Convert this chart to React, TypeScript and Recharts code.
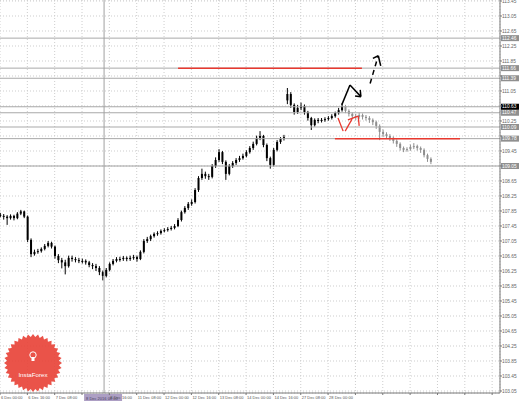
import React from "react";
import {
  ComposedChart,
  Bar,
  XAxis,
  YAxis,
  CartesianGrid,
  ReferenceLine,
} from "recharts";

// 2-hour bars
const opens = [
  107.75, 107.72, 107.7, 107.66, 107.72, 107.66, 107.78, 107.84, 107.7, 107.08,
  106.7, 106.76, 106.78, 106.84, 106.92, 107.0, 106.9, 106.65, 106.54, 106.48,
  106.38, 106.6, 106.57, 106.54, 106.52, 106.52, 106.48, 106.41, 106.38, 106.33,
  106.22, 106.12, 106.28, 106.44, 106.52, 106.57, 106.57, 106.6, 106.57, 106.6,
  106.62, 106.57, 106.76, 107.05, 107.1, 107.18, 107.24, 107.26, 107.32, 107.34,
  107.37, 107.4, 107.45, 107.61, 107.82, 107.93, 108.04, 108.09, 108.41, 108.73,
  108.84, 108.78, 108.76, 109.05, 109.21, 109.42, 109.16, 108.84, 109.05, 109.13,
  109.21, 109.26, 109.32, 109.42, 109.53, 109.64, 109.8, 109.85, 109.61, 109.26,
  109.08, 109.48, 109.69, 109.77, 110.8, 110.97, 110.68, 110.49, 110.6, 110.65,
  110.49, 110.33, 110.14, 110.28, 110.25, 110.28, 110.3, 110.33, 110.38, 110.46,
  110.54, 110.65, 110.52, 110.44, 110.38, 110.36, 110.41, 110.36, 110.33, 110.28,
  110.22, 110.12, 109.96, 109.9, 109.85, 109.8, 109.72, 109.64, 109.53, 109.48,
  109.5, 109.56, 109.58, 109.53, 109.48, 109.34, 109.24,
];
const highs = [
  107.8, 107.77, 107.74, 107.76, 107.75, 107.82, 107.88, 107.86, 107.73, 107.12,
  106.82, 106.84, 106.88, 106.97, 107.05, 107.03, 106.93, 106.7, 106.6, 106.55,
  106.66, 106.66, 106.62, 106.6, 106.58, 106.56, 106.52, 106.46, 106.44, 106.38,
  106.26, 106.33, 106.48, 106.57, 106.62, 106.63, 106.65, 106.64, 106.66, 106.68,
  106.66, 106.8, 107.1, 107.16, 107.22, 107.28, 107.31, 107.36, 107.39, 107.42,
  107.45, 107.5, 107.66, 107.86, 107.98, 108.09, 108.16, 108.46, 108.78, 108.98,
  108.9, 108.84, 109.1, 109.28, 109.5, 109.45, 109.2, 109.1, 109.18, 109.26,
  109.32, 109.38, 109.47, 109.58, 109.7, 109.86, 109.98, 109.88, 109.65, 109.3,
  109.53, 109.74, 109.82, 109.88, 111.13, 111.02, 110.72, 110.68, 110.74, 110.69,
  110.52, 110.36, 110.32, 110.33, 110.33, 110.35, 110.38, 110.43, 110.5, 110.6,
  110.72, 110.68, 110.56, 110.48, 110.44, 110.47, 110.45, 110.41, 110.38, 110.32,
  110.26, 110.16, 110.02, 109.95, 109.9, 109.84, 109.76, 109.68, 109.57, 109.55,
  109.62, 109.66, 109.62, 109.57, 109.52, 109.38, 109.28,
];
const lows = [
  107.68, 107.62, 107.48, 107.62, 107.6, 107.63, 107.74, 107.66, 107.02, 106.62,
  106.66, 106.71, 106.74, 106.8, 106.88, 106.85, 106.58, 106.46, 106.32, 106.16,
  106.34, 106.5, 106.48, 106.46, 106.45, 106.42, 106.35, 106.3, 106.25, 106.14,
  106.0, 106.08, 106.24, 106.4, 106.48, 106.5, 106.52, 106.51, 106.52, 106.55,
  106.5, 106.54, 106.72, 107.0, 107.05, 107.14, 107.19, 107.22, 107.28, 107.3,
  107.33, 107.36, 107.42, 107.57, 107.78, 107.88, 107.99, 108.05, 108.36, 108.68,
  108.71, 108.68, 108.72, 109.0, 109.16, 109.1, 108.68, 108.8, 109.0, 109.08,
  109.16, 109.22, 109.28, 109.38, 109.48, 109.6, 109.74, 109.55, 109.18, 108.98,
  109.04, 109.44, 109.64, 109.73, 110.7, 110.6, 110.42, 110.44, 110.54, 110.42,
  110.26, 110.01, 110.1, 110.19, 110.21, 110.23, 110.26, 110.29, 110.34, 110.42,
  110.5, 110.46, 110.37, 110.3, 110.28, 110.31, 110.29, 110.26, 110.2, 110.14,
  110.04, 109.74, 109.82, 109.78, 109.72, 109.65, 109.56, 109.46, 109.42, 109.43,
  109.46, 109.5, 109.46, 109.4, 109.28, 109.16, 109.1,
];
const closes = [
  107.72, 107.7, 107.66, 107.72, 107.66, 107.78, 107.84, 107.7, 107.08, 106.7,
  106.76, 106.78, 106.84, 106.92, 107.0, 106.9, 106.65, 106.54, 106.48, 106.38,
  106.6, 106.57, 106.54, 106.52, 106.52, 106.48, 106.41, 106.38, 106.33, 106.22,
  106.12, 106.28, 106.44, 106.52, 106.57, 106.57, 106.6, 106.57, 106.6, 106.62,
  106.57, 106.76, 107.05, 107.1, 107.18, 107.24, 107.26, 107.32, 107.34, 107.37,
  107.4, 107.45, 107.61, 107.82, 107.93, 108.04, 108.09, 108.41, 108.73, 108.84,
  108.78, 108.76, 109.05, 109.21, 109.42, 109.16, 108.84, 109.05, 109.13, 109.21,
  109.26, 109.32, 109.42, 109.53, 109.64, 109.8, 109.85, 109.61, 109.26, 109.08,
  109.48, 109.69, 109.77, 109.82, 110.97, 110.68, 110.49, 110.6, 110.65, 110.49,
  110.33, 110.14, 110.28, 110.25, 110.28, 110.3, 110.33, 110.38, 110.46, 110.54,
  110.65, 110.52, 110.44, 110.38, 110.36, 110.41, 110.36, 110.33, 110.28, 110.22,
  110.12, 109.96, 109.9, 109.85, 109.8, 109.72, 109.64, 109.53, 109.48, 109.5,
  109.56, 109.58, 109.53, 109.48, 109.34, 109.24, 109.16,
];
// bars after this one are the grey (later) part
const actualBars = 101;

const dateTicks = [0, 8, 16, 24, 32, 40, 48, 56, 64, 72, 80, 88, 96, 104, 112, 120, 128, 136, 144];
const dateLabels = [
  "6 Dec 00:00", "6 Dec 16:00", "7 Dec 08:00", "8 Dec 00:00", "8 Dec 16:00",
  "11 Dec 08:00", "12 Dec 00:00", "12 Dec 16:00", "13 Dec 08:00", "14 Dec 00:00",
  "14 Dec 16:00", "27 Dec 08:00", "28 Dec 00:00",
];
const priceTicks = [
  103.05, 103.45, 103.85, 104.25, 104.65, 105.05, 105.45, 105.85, 106.25, 106.65,
  107.05, 107.45, 107.85, 108.25, 108.65, 109.05, 109.45, 109.85, 110.25, 110.65,
  111.05, 111.45, 111.85, 112.25, 112.65, 113.05, 113.45,
];

const levelPrices = [112.46, 111.66, 111.39, 110.47, 110.09, 109.78];
const bidPrice = 110.63;
const crossPrice = 109.05;
const crossBar = 30.45;
const crossLabel = "8 Dec 2016 08:00";

const redLevels = [
  { price: 111.66, from: 52.1, to: 105.9 },
  { price: 109.78, from: 98, to: 134.6 },
];

// hand-drawn arrows, as [bar, price] points
const solidArrow = [[100, 110.68], [102.4, 111.21], [105.6, 110.9]];
const solidHead = [[103.9, 110.92], [105.6, 110.9], [105.4, 111.08]];
const dashedArrow = [[108.3, 111.25], [110.6, 111.97]];
const dashedHead = [[109.1, 111.92], [110.7, 111.99], [111.4, 111.72]];
const redArrowA = [[98.9, 110.33], [100.4, 109.98]];
const redArrowB = [[101, 109.98], [103, 110.3]];
const redHead = [[101.8, 110.28], [104.8, 110.38], [105.1, 110.12]];

const FONT = "'Liberation Sans', Arial, sans-serif";
const tagPrices = [...levelPrices, bidPrice, crossPrice];

const Candle = (props: any) => {
  const { x, y, width, height, payload } = props;
  if (x == null || y == null) return null;
  const { open, close, high, low, later } = payload;
  const color = later ? "#8e8e8e" : "#000";
  const top = Math.min(y, y + height);
  const h = Math.max(Math.abs(height), 1);
  const span = high - low || 1;
  const py = (v: number) => top + ((high - v) / span) * h;
  const cx = x + width / 2;
  const bodyTop = py(Math.max(open, close));
  const bodyH = Math.max(1, py(Math.min(open, close)) - bodyTop);
  return (
    <g>
      <line x1={cx} x2={cx} y1={top} y2={top + h} stroke={color} strokeWidth={1} />
      <rect x={x} y={bodyTop} width={width} height={bodyH} fill={color} />
    </g>
  );
};

const DateTick = (props: any) => {
  const { x, y, payload } = props;
  const idx = dateTicks.indexOf(payload.value);
  const label = dateLabels[idx] || "";
  // the crosshair date tag hides the label just left of it
  const hidden = payload.value < crossBar && crossBar - payload.value < 7;
  if (!label || hidden) return <g />;
  return (
    <text x={x + 1} y={y + 4} fontSize={4} fill="#555" fontFamily={FONT} textAnchor="start">
      {label}
    </text>
  );
};

const PriceTick = (props: any) => {
  const { x, y, payload } = props;
  // the level tags cover the tick labels right under them
  if (tagPrices.some((p) => Math.abs(p - payload.value) < 0.09)) return <g />;
  return (
    <text x={x} y={y + 1.6} fontSize={4.8} fill="#666" fontFamily={FONT} textAnchor="start">
      {payload.value.toFixed(2)}
    </text>
  );
};

const priceTag = (value: number, dark: boolean) => (p: any) => {
  const { x, y, width } = p.viewBox;
  return (
    <g>
      <rect x={x + width + 1} y={y - 3} width={18} height={6} fill={dark ? "#000" : "#8f8f8f"} />
      <text x={x + width + 2} y={y + 1.7} fontSize={4.8} fill="#fff" fontFamily={FONT}>
        {value.toFixed(2)}
      </text>
    </g>
  );
};

const timeTag = (p: any) => {
  const { x, y, height } = p.viewBox;
  return (
    <g>
      <rect x={x - 20} y={y + height + 1} width={38} height={7} fill="#ad9fc4" />
      <text x={x - 18} y={y + height + 6.5} fontSize={4} fill="#4b3f66" fontFamily={FONT}>
        {crossLabel}
      </text>
    </g>
  );
};

function segments(points: number[][], key: string, stroke: string, width: number, dash?: string) {
  const out = [];
  for (let k = 1; k < points.length; k++) {
    out.push(
      <ReferenceLine
        key={key + k}
        segment={[
          { x: points[k - 1][0], y: points[k - 1][1] },
          { x: points[k][0], y: points[k][1] },
        ]}
        stroke={stroke}
        strokeWidth={width}
        strokeDasharray={dash}
        ifOverflow="visible"
      />
    );
  }
  return out;
}

function Badge() {
  const cx = 33;
  const cy = 363;
  const n = 36;
  const pts: string[] = [];
  for (let k = 0; k < n * 2; k++) {
    const r = k % 2 ? 26 : 29;
    const a = (Math.PI * k) / n;
    pts.push(`${(cx + r * Math.cos(a)).toFixed(2)},${(cy + r * Math.sin(a)).toFixed(2)}`);
  }
  return (
    <svg width={519} height={402} style={{ position: "absolute", left: 0, top: 0, pointerEvents: "none" }}>
      <polygon points={pts.join(" ")} fill="#e8443a" opacity={0.92} />
      <circle cx={cx} cy={cy - 8} r={3.2} fill="none" stroke="#fff" strokeWidth={1} />
      <rect x={cx - 1.5} y={cy - 6} width={3} height={4} fill="#fff" />
      <text x={cx} y={cy + 14} fontSize={6.2} fill="#fff" textAnchor="middle" fontFamily={FONT}>
        InstaForex
      </text>
    </svg>
  );
}

export default function App() {
  const data = closes.map((c, i) => ({
    i,
    open: opens[i],
    high: highs[i],
    low: lows[i],
    close: c,
    range: [lows[i], highs[i]],
    later: i >= actualBars,
  }));

  return (
    <div style={{ position: "absolute", left: 0, top: 0, width: 519, height: 402, background: "#fff" }}>
      <ComposedChart width={519} height={402} data={data} margin={{ top: 0, right: 0, bottom: 0, left: 0 }}>
        <CartesianGrid stroke="#cdcdcd" strokeDasharray="1 2" />
        <XAxis
          dataKey="i"
          type="number"
          domain={[0, 146.3]}
          ticks={dateTicks}
          interval={0}
          allowDataOverflow
          height={9}
          tickSize={2}
          tickMargin={0}
          axisLine={{ stroke: "#777" }}
          tickLine={{ stroke: "#777" }}
          tick={<DateTick />}
        />
        <YAxis
          orientation="right"
          type="number"
          domain={[102.997, 113.477]}
          ticks={priceTicks}
          interval={0}
          allowDataOverflow
          width={19}
          tickSize={2}
          tickMargin={0}
          axisLine={{ stroke: "#777" }}
          tickLine={{ stroke: "#777" }}
          tick={<PriceTick />}
        />
        {levelPrices.map((p) => (
          <ReferenceLine key={"lv" + p} y={p} stroke="#a9a9a9" label={priceTag(p, false)} />
        ))}
        <ReferenceLine y={bidPrice} stroke="#a9a9a9" label={priceTag(bidPrice, true)} />
        <ReferenceLine y={crossPrice} stroke="#a0a0a0" label={priceTag(crossPrice, false)} />
        <ReferenceLine x={crossBar} stroke="#a0a0a0" label={timeTag} />
        <Bar dataKey="range" barSize={2} shape={Candle} isAnimationActive={false} />
        {redLevels.map((r) => (
          <ReferenceLine
            key={"red" + r.price}
            segment={[
              { x: r.from, y: r.price },
              { x: r.to, y: r.price },
            ]}
            stroke="#e8382f"
            strokeWidth={1.5}
            ifOverflow="visible"
          />
        ))}
        {segments(solidArrow, "sa", "#000", 1.5)}
        {segments(solidHead, "sh", "#000", 1.5)}
        {segments(dashedArrow, "da", "#000", 1.5, "5 4")}
        {segments(dashedHead, "dh", "#000", 1.5)}
        {segments(redArrowA, "ra", "#e8382f", 1.3)}
        {segments(redArrowB, "rb", "#e8382f", 1.3)}
        {segments(redHead, "rh", "#e8382f", 1.3)}
      </ComposedChart>
      <Badge />
    </div>
  );
}
